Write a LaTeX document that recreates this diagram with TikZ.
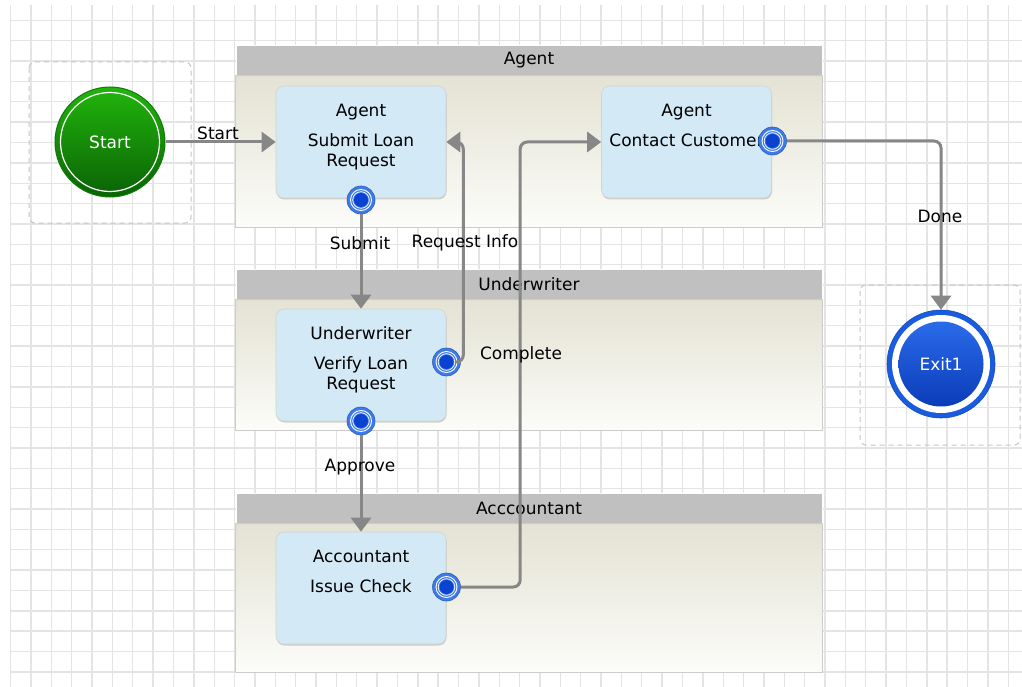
\documentclass[tikz,border=0pt]{standalone}
\usepackage{fontspec}
\setmainfont{DejaVu Sans}
\usetikzlibrary{arrows.meta,shadows}

\definecolor{gridgray}{HTML}{E4E4E4}
\definecolor{headgray}{HTML}{C0C0C0}
\definecolor{lanetop}{HTML}{E4E2D3}
\definecolor{lanebottom}{HTML}{FCFCF9}
\definecolor{taskblue}{HTML}{D3E9F5}
\definecolor{flowgray}{HTML}{878787}
\definecolor{portblue}{HTML}{3E7BEA}
\definecolor{portdark}{HTML}{0B43D0}
\definecolor{startlight}{HTML}{22B50C}
\definecolor{startdark}{HTML}{0A6205}
\definecolor{startedge}{HTML}{0E7A08}
\definecolor{exitblue}{HTML}{1A5CE0}
\definecolor{exitlight}{HTML}{2A6BEA}
\definecolor{exitdark}{HTML}{0B3CB8}

\tikzset{
  every node/.style={font=\fontsize{17}{20}\selectfont},
  gridline/.style={gridgray, line width=1.4pt},
  lanehead/.style={fill=headgray, draw=white, line width=0.8pt,
    minimum width=586pt, minimum height=30pt, inner sep=0pt},
  lanebody/.style={top color=lanetop, bottom color=lanebottom, draw=gray!40, line width=0.8pt,
    drop shadow={shadow xshift=1pt, shadow yshift=-1pt, opacity=0.3}},
  task/.style={rectangle, rounded corners=8pt, fill=taskblue, draw=gray!35, line width=0.6pt,
    minimum width=170pt, minimum height=112pt, inner sep=0pt,
    drop shadow={shadow xshift=0.5pt, shadow yshift=-1.5pt, opacity=0.35}},
  tasktext/.style={align=center, anchor=north, inner sep=0pt},
  port/.style={circle, minimum size=28pt, inner sep=0pt, fill=portblue,
    draw=portblue!75!black, line width=0.6pt,
    path picture={
      \draw[white, line width=0.9pt] (path picture bounding box.center) circle (10.5pt);
      \draw[white, line width=0.7pt] (path picture bounding box.center) circle (8.3pt);
      \fill[portdark] (path picture bounding box.center) circle (7pt);}},
  startnode/.style={circle, minimum size=110pt, inner sep=0pt, top color=startlight,
    bottom color=startdark, draw=startedge, line width=1pt, text=white,
    path picture={\draw[white, line width=1.2pt] (path picture bounding box.center) circle (49.5pt);}},
  exitnode/.style={circle, minimum size=108pt, inner sep=0pt, fill=exitblue,
    draw=exitblue!80!black, line width=0.6pt, text=white,
    path picture={
      \fill[white] (path picture bounding box.center) circle (49pt);
      \shade[top color=exitlight, bottom color=exitdark] (path picture bounding box.center) circle (42.5pt);}},
  dashbox/.style={draw=gray!45, line width=1pt, dash pattern=on 5pt off 4pt, rounded corners=6pt},
  flow/.style={draw=flowgray, line width=3pt, rounded corners=7pt,
    -{Triangle[width=20pt,length=14pt]}},
  flowlabel/.style={inner sep=1pt}
}

\begin{document}
\begin{tikzpicture}[x=1pt, y=-1pt]
  \useasboundingbox[fill=white] (0,0) rectangle (1022,687);

  % 1) Background grid
  \foreach \i in {0,...,49}
    \draw[gridline] ({10.6+20.36*\i},5) -- ({10.6+20.36*\i},687);
  \foreach \j in {1,...,33}
    \draw[gridline] (11,{20.36*\j}) -- (1022,{20.36*\j});

  % 2) Swim lanes
  \node[lanehead] (agentLane) at (529,60) {Agent};
  \shade[lanebody] (agentLane.south west) rectangle ([yshift=-152pt]agentLane.south east);
  \node[lanehead] (underLane) at (529,284) {Underwriter};
  \shade[lanebody] (underLane.south west) rectangle ([yshift=-131pt]underLane.south east);
  \node[lanehead] (acctLane) at (529,508) {Acccountant};
  \shade[lanebody] (acctLane.south west) rectangle ([yshift=-149pt]acctLane.south east);

  % 3) Start and exit
  \draw[dashbox] (29,62) rectangle (191,223);
  \node[startnode] (start) at (110,142) {Start};
  \draw[dashbox] (860,285) rectangle (1020,445);
  \node[exitnode] (exit) at (941,364) {Exit1};

  % 4) Tasks
  \node[task] (submit) at (361,142) {};
  \node[tasktext] (submitText) at ([yshift=-18pt]submit.north) {Agent\\[10pt]Submit Loan\\Request};
  \node[task] (contact) at (686.5,142) {};
  \node[tasktext] (contactText) at ([yshift=-18pt]contact.north) {Agent\\[10pt]Contact Customer};
  \node[task] (verify) at (361,365) {};
  \node[tasktext] (verifyText) at ([yshift=-18pt]verify.north) {Underwriter\\[10pt]Verify Loan\\Request};
  \node[task] (issue) at (361,588) {};
  \node[tasktext] (issueText) at ([yshift=-18pt]issue.north) {Accountant\\[10pt]Issue Check};

  % 5) Ports
  \node[port] (submitOut) at (361,200) {};
  \node[port] (contactOut) at (772.5,141) {};
  \node[port] (verifyRight) at (446.5,362) {};
  \node[port] (verifyDown) at (361,421) {};
  \node[port] (issueOut) at (446.5,587) {};

  % 6) Transitions
  \draw[flow] (start.east) -- (submit.west);
  \draw[flow] (submitOut.south) -- (verify.north);
  \draw[flow] (verifyRight.east) -| ([xshift=17pt]submit.east) -- (submit.east);
  \draw[flow] (verifyDown.south) -- (issue.north);
  \draw[flow] (issueOut.east) -| ([xshift=-81pt]contact.west) -- (contact.west);
  \draw[flow] (contactOut.east) -| (exit.north);

  \node[flowlabel] (startLbl) at (218,133) {Start};
  \node[flowlabel] (submitLbl) at (360,243) {Submit};
  \node[flowlabel] (infoLbl) at (465,243) {Request Info};
  \node[flowlabel] (completeLbl) at (521,355) {Complete};
  \node[flowlabel] (approveLbl) at (360,467) {Approve};
  \node[flowlabel] (doneLbl) at (940,216) {Done};
\end{tikzpicture}
\end{document}
